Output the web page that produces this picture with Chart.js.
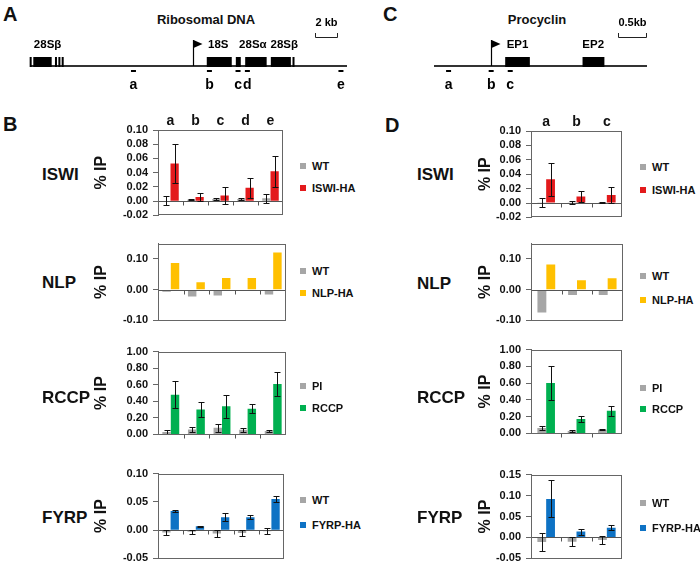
<!DOCTYPE html>
<html><head><meta charset="utf-8">
<script src="https://cdn.jsdelivr.net/npm/chart.js@4"></script>
<style>
body{margin:0;background:#fff;width:700px;height:565px;overflow:hidden;position:relative;font-family:"Liberation Sans",Arial,sans-serif;color:#111}
.t{position:absolute;white-space:nowrap;font-weight:bold;line-height:1}
canvas{position:absolute}
</style></head><body>
<script>
// ---------- DATA ----------
const rdnaCategories = ['a','b','c','d','e'];
const procCategories = ['a','b','c'];

// Panel B (ribosomal DNA)
const iswiB_wt = [0.0005, 0.002, 0.003, 0.003, 0.004];
const iswiB_wtErr = [0.0065, 0.0008, 0.0008, 0.0008, 0.006];
const iswiB_ha = [0.053, 0.006, 0.008, 0.019, 0.042];
const iswiB_haErr = [0.028, 0.006, 0.012, 0.014, 0.022];
const nlpB_wt = [-0.007, -0.022, -0.019, 0.000, -0.016];
const nlpB_ha = [0.087, 0.024, 0.038, 0.038, 0.121];
const rccpB_pi = [0.03, 0.06, 0.08, 0.055, 0.04];
const rccpB_piErr = [0.02, 0.03, 0.05, 0.02, 0.015];
const rccpB_rccp = [0.48, 0.30, 0.34, 0.31, 0.61];
const rccpB_rccpErr = [0.16, 0.095, 0.14, 0.055, 0.145];
const fyrpB_wt = [-0.004, -0.003, -0.006, -0.005, -0.002];
const fyrpB_wtErr = [0.005, 0.003, 0.006, 0.005, 0.005];
const fyrpB_ha = [0.034, 0.007, 0.023, 0.023, 0.055];
const fyrpB_haErr = [0.0015, 0.001, 0.007, 0.003, 0.006];

// Panel D (procyclin)
const iswiD_wt = [0.0005, 0.001, 0.001];
const iswiD_wtErr = [0.006, 0.002, 0.0005];
const iswiD_ha = [0.033, 0.009, 0.011];
const iswiD_haErr = [0.023, 0.007, 0.011];
const nlpD_wt = [-0.074, -0.017, -0.017];
const nlpD_ha = [0.082, 0.031, 0.037];
const rccpD_pi = [0.065, 0.03, 0.045];
const rccpD_piErr = [0.02, 0.008, 0.01];
const rccpD_rccp = [0.60, 0.173, 0.27];
const rccpD_rccpErr = [0.20, 0.04, 0.057];
const fyrpD_wt = [-0.011, -0.01, -0.006];
const fyrpD_wtErr = [0.022, 0.01, 0.01];
const fyrpD_ha = [0.092, 0.014, 0.023];
const fyrpD_haErr = [0.044, 0.007, 0.006];

// y tick labels
const iswiTicks = [-0.02, 0.00, 0.02, 0.04, 0.06, 0.08, 0.10];
const nlpTicks = [-0.10, 0.00, 0.10];
const rccpTicks = [0.00, 0.20, 0.40, 0.60, 0.80, 1.00];
const fyrpBTicks = [-0.05, 0.00, 0.05, 0.10];
const fyrpDTicks = [-0.05, 0.00, 0.05, 0.10, 0.15];

// Gene maps (kb)
const rdnaLengthKb = 28.8;
const rdnaExons = [[0.30,1.97],[16.06,18.33],[18.70,19.15],[19.55,21.50],[21.88,23.70]];
const rdnaThinMarks = [0.06, 2.36, 2.67, 2.97, 23.94];
const rdnaTss = 14.8;
const rdnaProbes = [9.4, 16.3, 18.9, 19.75, 28.25];
const rdnaProbeNames = ['a','b','c','d','e'];
const rdnaGeneNames = ['28Sβ','18S','28Sα','28Sβ'];
const rdnaGeneLabelPos = [1.6, 17.1, 20.25, 23.1];
const rdnaScaleBar = [25.9, 27.9];
const rdnaScaleText = '2 kb';

const procLengthKb = 3.8;
const procExons = [[1.27,1.71],[2.65,3.04]];
const procThinMarks = [];
const procTss = 1.02;
const procProbes = [0.26, 1.02, 1.36];
const procProbeNames = ['a','b','c'];
const procGeneNames = ['EP1','EP2'];
const procGeneLabelPos = [1.49, 2.84];
const procScaleBar = [3.29, 3.79];
const procScaleText = '0.5kb';

// ---------- STYLE ----------
const FONT = '"Liberation Sans", Arial, sans-serif';
const GRAY = '#A6A6A6', RED = '#E31A1C', YEL = '#FFC000', GRN = '#00B050', BLU = '#0E72C4';

function txt(s, x, y, size, align, extra){
  const d = document.createElement('div');
  d.className = 't';
  d.textContent = s;
  d.style.left = x + 'px';
  d.style.top = y + 'px';
  d.style.fontSize = size + 'px';
  d.style.transform = align === 'center' ? 'translate(-50%,-50%)' : 'translateY(-50%)';
  if (extra) Object.assign(d.style, extra);
  document.body.appendChild(d);
}

// ---------- BAR CHARTS ----------
function makeBarChart(cfg){
  const axisW = 70, padTop = cfg.topLabels ? 26 : 10, padBottom = 10, padRight = 4;
  const c = document.createElement('canvas');
  const W = cfg.right - cfg.left + axisW + padRight;
  const H = cfg.bottom - cfg.top + padTop + padBottom;
  c.width = W; c.height = H;
  c.style.width = W + 'px'; c.style.height = H + 'px';
  c.style.left = (cfg.left - axisW) + 'px';
  c.style.top = (cfg.top - padTop) + 'px';
  document.body.appendChild(c);

  const decor = {
    id: 'decor',
    afterDatasetsDraw(chart){
      const ctx = chart.ctx, a = chart.chartArea, x = chart.scales.x, y = chart.scales.y;
      ctx.save();
      // zero axis with category tick marks
      const y0 = Math.round(y.getPixelForValue(0)) + 0.5;
      ctx.strokeStyle = '#555'; ctx.lineWidth = 1;
      ctx.beginPath(); ctx.moveTo(a.left, y0); ctx.lineTo(a.right, y0); ctx.stroke();
      const n = chart.data.labels.length;
      const cw = (a.right - a.left) / n;
      ctx.beginPath();
      for (let i = 1; i < n; i++) {
        const xb = Math.round(x.getPixelForValue(i) - cw / 2) + 0.5;
        ctx.moveTo(xb, y0); ctx.lineTo(xb, y0 + 4);
      }
      ctx.stroke();
      // error bars
      ctx.strokeStyle = '#111'; ctx.lineWidth = 1;
      chart.data.datasets.forEach((ds, di) => {
        if (!ds.errs) return;
        chart.getDatasetMeta(di).data.forEach((bar, i) => {
          const v = ds.data[i], e = ds.errs[i];
          const bx = Math.round(bar.x) + 0.5;
          const y1 = Math.round(y.getPixelForValue(v + e)) + 0.5;
          const y2 = Math.round(y.getPixelForValue(v - e)) + 0.5;
          ctx.beginPath();
          ctx.moveTo(bx, y1); ctx.lineTo(bx, y2);
          ctx.moveTo(bx - 3, y1); ctx.lineTo(bx + 3, y1);
          ctx.moveTo(bx - 3, y2); ctx.lineTo(bx + 3, y2);
          ctx.stroke();
        });
      });
      // frame
      ctx.strokeStyle = '#666';
      ctx.strokeRect(Math.round(a.left) + 0.5, Math.round(a.top) + 0.5, Math.round(a.right - a.left) - 1, Math.round(a.bottom - a.top) - 1);
      // category labels on top
      if (cfg.topLabels) {
        ctx.fillStyle = '#111';
        ctx.font = 'bold 14px ' + FONT;
        ctx.textAlign = 'center'; ctx.textBaseline = 'middle';
        chart.data.labels.forEach((l, i) => ctx.fillText(l, x.getPixelForValue(i), a.top - 9));
      }
      ctx.restore();
    }
  };

  new Chart(c, {
    type: 'bar',
    data: {
      labels: cfg.cats,
      datasets: cfg.series.map(s => ({label: s.label, data: s.data, errs: s.err, backgroundColor: s.color, borderWidth: 0}))
    },
    options: {
      responsive: false, animation: false, devicePixelRatio: 1,
      layout: {padding: {left: 0, top: padTop, right: padRight, bottom: padBottom}},
      plugins: {legend: {display: false}, tooltip: {enabled: false}},
      datasets: {bar: {categoryPercentage: cfg.catPct, barPercentage: 1}},
      scales: {
        x: {display: false, offset: true},
        y: {
          min: cfg.yMin, max: cfg.yMax,
          afterBuildTicks: s => { s.ticks = cfg.ticks.map(v => ({value: v})); },
          afterFit: s => { s.width = axisW; },
          grid: {drawOnChartArea: false, drawTicks: true, tickLength: 5, color: '#666'},
          border: {display: true, color: '#666'},
          ticks: {autoSkip: false, padding: 5, color: '#111', font: {size: 11, weight: 'bold', family: FONT}, callback: v => Number(v).toFixed(2)},
          title: {display: true, text: '% IP', color: '#111', font: {size: 16, weight: 'bold', family: FONT}, padding: {top: cfg.titlePad, bottom: 0}}
        }
      }
    },
    plugins: [decor]
  });

  // row label + legend
  txt(cfg.row, cfg.rowX, cfg.rowY, 17);
  cfg.series.forEach((s, i) => {
    const ly = cfg.legY[i];
    const sq = document.createElement('div');
    Object.assign(sq.style, {position: 'absolute', left: cfg.legX + 'px', top: (ly - 3) + 'px', width: '6px', height: '6px', background: s.color});
    document.body.appendChild(sq);
    txt(s.label, cfg.legX + 12, ly, 11);
  });
}

// ---------- GENE MAPS ----------
function makeMap(cfg){
  const c = document.createElement('canvas');
  const W = cfg.cRight - cfg.cLeft, H = 100;
  c.width = W; c.height = H; c.style.width = W + 'px'; c.style.height = H + 'px';
  c.style.left = cfg.cLeft + 'px'; c.style.top = '0px';
  document.body.appendChild(c);
  const draw = {
    id: 'mapdraw',
    afterDraw(chart){
      const ctx = chart.ctx, x = chart.scales.x;
      const yb = 66;
      ctx.save();
      ctx.strokeStyle = '#333'; ctx.lineWidth = 2;
      ctx.beginPath(); ctx.moveTo(x.getPixelForValue(0), yb); ctx.lineTo(x.getPixelForValue(cfg.len), yb); ctx.stroke();
      ctx.fillStyle = '#000';
      cfg.exons.forEach(([s, e]) => {
        const xs = x.getPixelForValue(s), xe = x.getPixelForValue(e);
        ctx.fillRect(xs, 57, xe - xs, 10);
      });
      cfg.thin.forEach(t => ctx.fillRect(x.getPixelForValue(t) - 1, 57, 2, 10));
      // TSS flag
      const xt = Math.round(x.getPixelForValue(cfg.tss)) + 0.5;
      ctx.strokeStyle = '#000'; ctx.lineWidth = 1.2;
      ctx.beginPath(); ctx.moveTo(xt, yb); ctx.lineTo(xt, 40); ctx.stroke();
      ctx.beginPath(); ctx.moveTo(xt, 40); ctx.lineTo(xt + 9, 44); ctx.lineTo(xt, 48); ctx.closePath(); ctx.fill();
      // probes
      ctx.lineWidth = 2;
      ctx.font = 'bold 14px ' + FONT; ctx.textAlign = 'center'; ctx.textBaseline = 'middle';
      cfg.probes.forEach((p, i) => {
        const xp = x.getPixelForValue(p);
        ctx.beginPath(); ctx.moveTo(xp - 2.5, 71); ctx.lineTo(xp + 2.5, 71); ctx.stroke();
        ctx.fillText(cfg.probeNames[i], xp, 85);
      });
      // gene labels
      ctx.font = 'bold 11.5px ' + FONT;
      cfg.geneNames.forEach((g, i) => ctx.fillText(g, x.getPixelForValue(cfg.genePos[i]), 45));
      // scale bar
      const s0 = Math.round(x.getPixelForValue(cfg.scale[0])) + 0.5, s1 = Math.round(x.getPixelForValue(cfg.scale[1])) + 0.5;
      ctx.lineWidth = 1; ctx.strokeStyle = '#222';
      ctx.beginPath(); ctx.moveTo(s0, 33); ctx.lineTo(s0, 37.5); ctx.lineTo(s1, 37.5); ctx.lineTo(s1, 33); ctx.stroke();
      ctx.font = 'bold 11px ' + FONT;
      ctx.fillText(cfg.scaleText, (s0 + s1) / 2, 23);
      ctx.restore();
    }
  };
  new Chart(c, {
    type: 'scatter',
    data: {datasets: []},
    options: {
      responsive: false, animation: false, devicePixelRatio: 1,
      layout: {padding: {left: cfg.padL, right: cfg.padR, top: 0, bottom: 0}},
      plugins: {legend: {display: false}, tooltip: {enabled: false}},
      scales: {x: {type: 'linear', min: 0, max: cfg.len, display: false}, y: {min: 0, max: 1, display: false}}
    },
    plugins: [draw]
  });
}

// ---------- BUILD ----------
txt('A', 3, 14, 20);
txt('C', 383, 14, 20);
txt('B', 3, 124, 20);
txt('D', 385, 125, 20);
txt('Ribosomal DNA', 206, 19, 13, 'center');
txt('Procyclin', 537, 19, 13, 'center');

makeMap({cLeft: 20, cRight: 360, padL: 10, padR: 13, len: rdnaLengthKb, exons: rdnaExons, thin: rdnaThinMarks, tss: rdnaTss,
  probes: rdnaProbes, probeNames: rdnaProbeNames, geneNames: rdnaGeneNames, genePos: rdnaGeneLabelPos, scale: rdnaScaleBar, scaleText: rdnaScaleText});
makeMap({cLeft: 420, cRight: 660, padL: 14, padR: 13, len: procLengthKb, exons: procExons, thin: procThinMarks, tss: procTss,
  probes: procProbes, probeNames: procProbeNames, geneNames: procGeneNames, genePos: procGeneLabelPos, scale: procScaleBar, scaleText: procScaleText});

const colB = {catPct: 0.66, titlePad: 4.4, rowX: 42, legX: 300};
const colD = {catPct: 0.58, titlePad: 15.4, rowX: 417, legX: 640};

makeBarChart(Object.assign({}, colB, {left: 158, top: 130, right: 283, bottom: 217, cats: rdnaCategories, topLabels: true,
  yMin: -0.02, yMax: 0.10, ticks: iswiTicks, row: 'ISWI', rowY: 174, legY: [166, 188],
  series: [{label: 'WT', data: iswiB_wt, err: iswiB_wtErr, color: GRAY}, {label: 'ISWI-HA', data: iswiB_ha, err: iswiB_haErr, color: RED}]}));
makeBarChart(Object.assign({}, colB, {left: 158, top: 242, right: 286, bottom: 322, cats: rdnaCategories,
  yMin: -0.10, yMax: 0.15, ticks: nlpTicks, row: 'NLP', rowY: 282, legY: [271, 293],
  series: [{label: 'WT', data: nlpB_wt, color: GRAY}, {label: 'NLP-HA', data: nlpB_ha, color: YEL}]}));
makeBarChart(Object.assign({}, colB, {left: 158, top: 350, right: 286, bottom: 436, cats: rdnaCategories,
  yMin: 0, yMax: 1.0, ticks: rccpTicks, row: 'RCCP', rowY: 397, legY: [386, 408],
  series: [{label: 'PI', data: rccpB_pi, err: rccpB_piErr, color: GRAY}, {label: 'RCCP', data: rccpB_rccp, err: rccpB_rccpErr, color: GRN}]}));
makeBarChart(Object.assign({}, colB, {left: 158, top: 472, right: 284, bottom: 560, cats: rdnaCategories,
  yMin: -0.05, yMax: 0.10, ticks: fyrpBTicks, row: 'FYRP', rowY: 517, legY: [500, 525],
  series: [{label: 'WT', data: fyrpB_wt, err: fyrpB_wtErr, color: GRAY}, {label: 'FYRP-HA', data: fyrpB_ha, err: fyrpB_haErr, color: BLU}]}));

makeBarChart(Object.assign({}, colD, {left: 531, top: 131, right: 622, bottom: 219, cats: procCategories, topLabels: true,
  yMin: -0.02, yMax: 0.10, ticks: iswiTicks, row: 'ISWI', rowY: 174, legY: [167, 190],
  series: [{label: 'WT', data: iswiD_wt, err: iswiD_wtErr, color: GRAY}, {label: 'ISWI-HA', data: iswiD_ha, err: iswiD_haErr, color: RED}]}));
makeBarChart(Object.assign({}, colD, {left: 531, top: 242, right: 623, bottom: 322, cats: procCategories,
  yMin: -0.10, yMax: 0.15, ticks: nlpTicks, row: 'NLP', rowY: 283, legY: [276, 300],
  series: [{label: 'WT', data: nlpD_wt, color: GRAY}, {label: 'NLP-HA', data: nlpD_ha, color: YEL}]}));
makeBarChart(Object.assign({}, colD, {left: 531, top: 348, right: 622, bottom: 435, cats: procCategories,
  yMin: 0, yMax: 1.0, ticks: rccpTicks, row: 'RCCP', rowY: 397, legY: [388, 409],
  series: [{label: 'PI', data: rccpD_pi, err: rccpD_piErr, color: GRAY}, {label: 'RCCP', data: rccpD_rccp, err: rccpD_rccpErr, color: GRN}]}));
makeBarChart(Object.assign({}, colD, {left: 531, top: 473, right: 622, bottom: 560, cats: procCategories,
  yMin: -0.05, yMax: 0.15, ticks: fyrpDTicks, row: 'FYRP', rowY: 517, legY: [503, 528],
  series: [{label: 'WT', data: fyrpD_wt, err: fyrpD_wtErr, color: GRAY}, {label: 'FYRP-HA', data: fyrpD_ha, err: fyrpD_haErr, color: BLU}]}));
</script>
</body></html>
